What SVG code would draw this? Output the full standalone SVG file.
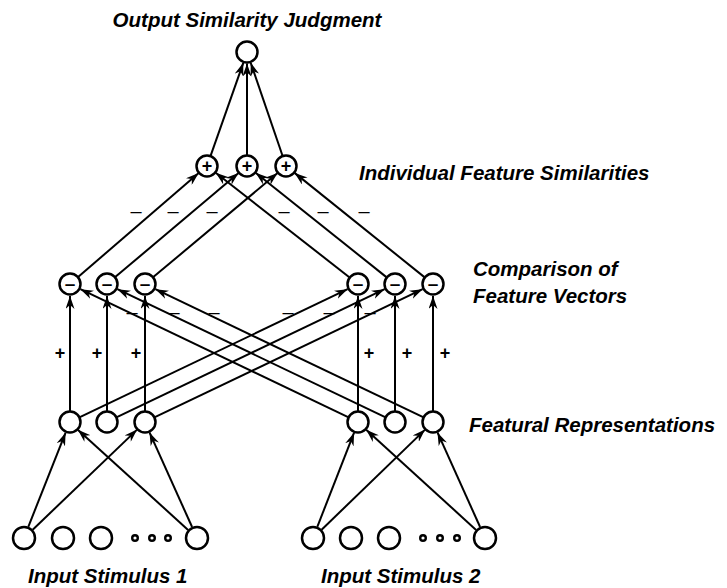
<svg xmlns="http://www.w3.org/2000/svg" width="727" height="588" viewBox="0 0 727 588">
  <style>
    .node { fill: #fff; stroke: #000; stroke-width: 2.5; }
    .dot { fill: #fff; stroke: #000; stroke-width: 2.4; }
    .link { stroke: #000; stroke-width: 2; fill: none; marker-end: url(#arr); }
    .title { font-family: "Liberation Sans", Arial, sans-serif; font-weight: bold; font-style: italic; font-size: 20.5px; fill: #000; }
    .sign { font-family: "Liberation Sans", Arial, sans-serif; font-weight: bold; fill: #000; text-anchor: middle; }
    .neg { font-family: "Liberation Sans", Arial, sans-serif; font-size: 20px; fill: #000; text-anchor: middle; }
  </style>
  <defs>
    <marker id="arr" viewBox="0 0 13 9" refX="13" refY="4.5" markerWidth="13" markerHeight="9" markerUnits="userSpaceOnUse" orient="auto">
      <path d="M0,0 L13,4.5 L0,9 L4,4.5 Z" fill="#000"/>
    </marker>
  </defs>

  <rect width="727" height="588" fill="#fff"/>

  <!-- connectors -->
  <g id="connectors">
    <!-- input stimulus 1 to featural units -->
    <line class="link" x1="28.3" y1="526.8" x2="65.6" y2="432.7"/>
    <line class="link" x1="32.7" y1="529.7" x2="137.1" y2="429.6"/>
    <line class="link" x1="188.1" y1="529.9" x2="77.8" y2="429.8"/>
    <line class="link" x1="192.1" y1="527.0" x2="149.5" y2="432.4"/>
    <!-- input stimulus 2 to featural units -->
    <line class="link" x1="317.3" y1="526.8" x2="354.1" y2="432.7"/>
    <line class="link" x1="321.6" y1="529.7" x2="425.1" y2="429.6"/>
    <line class="link" x1="476.1" y1="529.9" x2="366.2" y2="429.8"/>
    <line class="link" x1="480.1" y1="527.0" x2="437.5" y2="432.4"/>

    <!-- excitatory: featural unit to its own comparison unit -->
    <line class="link" x1="70" y1="411" x2="70" y2="296"/>
    <line class="link" x1="107" y1="411" x2="107" y2="296"/>
    <line class="link" x1="145" y1="411" x2="145" y2="296"/>
    <line class="link" x1="358" y1="411" x2="358" y2="296"/>
    <line class="link" x1="395" y1="411" x2="395" y2="296"/>
    <line class="link" x1="433" y1="411" x2="433" y2="296"/>

    <!-- inhibitory: featural unit to the other stimulus' comparison unit -->
    <line class="link" x1="79.9" y1="417.2" x2="347.6" y2="289.2"/>
    <line class="link" x1="116.9" y1="417.2" x2="384.6" y2="289.2"/>
    <line class="link" x1="154.9" y1="417.2" x2="422.6" y2="289.2"/>
    <line class="link" x1="348.1" y1="417.2" x2="80.4" y2="289.2"/>
    <line class="link" x1="385.1" y1="417.2" x2="117.4" y2="289.2"/>
    <line class="link" x1="423.1" y1="417.2" x2="155.4" y2="289.2"/>

    <!-- comparison units to feature similarity units -->
    <line class="link" x1="77.5" y1="277.5" x2="198.7" y2="173.1"/>
    <line class="link" x1="114.6" y1="277.6" x2="238.6" y2="173.0"/>
    <line class="link" x1="152.7" y1="277.6" x2="277.6" y2="173.0"/>
    <line class="link" x1="349.3" y1="277.2" x2="215.7" y2="172.8"/>
    <line class="link" x1="386.4" y1="277.1" x2="255.6" y2="172.8"/>
    <line class="link" x1="424.4" y1="277.1" x2="294.6" y2="172.9"/>

    <!-- feature similarity units to output -->
    <line class="link" x1="210.3" y1="156.6" x2="243.3" y2="62.8"/>
    <line class="link" x1="247" y1="156" x2="247" y2="63.5"/>
    <line class="link" x1="282.8" y1="156.5" x2="250.7" y2="62.8"/>

    <!-- signs on the lateral weights -->
    <text class="neg" x="136" y="217.5">–</text>
    <text class="neg" x="173" y="217.5">–</text>
    <text class="neg" x="212" y="217.5">–</text>
    <text class="neg" x="284" y="217.5">–</text>
    <text class="neg" x="323" y="217.5">–</text>
    <text class="neg" x="364" y="217.5">–</text>

    <text class="neg" x="132" y="318.5">–</text>
    <text class="neg" x="174" y="318.5">–</text>
    <text class="neg" x="214" y="318.5">–</text>
    <text class="neg" x="288" y="318.5">–</text>
    <text class="neg" x="329" y="318.5">–</text>
    <text class="neg" x="370" y="318.5">–</text>

    <text class="sign" font-size="18" x="60" y="359">+</text>
    <text class="sign" font-size="18" x="97" y="359">+</text>
    <text class="sign" font-size="18" x="136" y="359">+</text>
    <text class="sign" font-size="18" x="369" y="359">+</text>
    <text class="sign" font-size="18" x="407" y="359">+</text>
    <text class="sign" font-size="18" x="445" y="359">+</text>
  </g>

  <!-- output unit -->
  <g id="output">
    <circle class="node" cx="247" cy="52" r="10.5"/>
  </g>

  <!-- feature similarity units -->
  <g id="sim1"><circle class="node" cx="207" cy="166" r="10.5"/><text class="sign" font-size="18" x="207" y="172.2">+</text></g>
  <g id="sim2"><circle class="node" cx="247" cy="166" r="10.5"/><text class="sign" font-size="18" x="247" y="172.2">+</text></g>
  <g id="sim3"><circle class="node" cx="286" cy="166" r="10.5"/><text class="sign" font-size="18" x="286" y="172.2">+</text></g>

  <!-- comparison units -->
  <g id="cmpA1"><circle class="node" cx="70" cy="284" r="10.5"/><text class="sign" font-size="19" x="70" y="289.7">–</text></g>
  <g id="cmpA2"><circle class="node" cx="107" cy="284" r="10.5"/><text class="sign" font-size="19" x="107" y="289.7">–</text></g>
  <g id="cmpA3"><circle class="node" cx="145" cy="284" r="10.5"/><text class="sign" font-size="19" x="145" y="289.7">–</text></g>
  <g id="cmpB1"><circle class="node" cx="358" cy="284" r="10.5"/><text class="sign" font-size="19" x="358" y="289.7">–</text></g>
  <g id="cmpB2"><circle class="node" cx="395" cy="284" r="10.5"/><text class="sign" font-size="19" x="395" y="289.7">–</text></g>
  <g id="cmpB3"><circle class="node" cx="433" cy="284" r="10.5"/><text class="sign" font-size="19" x="433" y="289.7">–</text></g>

  <!-- featural representation units -->
  <g id="featA1"><circle class="node" cx="70" cy="422" r="10.5"/></g>
  <g id="featA2"><circle class="node" cx="107" cy="422" r="10.5"/></g>
  <g id="featA3"><circle class="node" cx="145" cy="422" r="10.5"/></g>
  <g id="featB1"><circle class="node" cx="358" cy="422" r="10.5"/></g>
  <g id="featB2"><circle class="node" cx="395" cy="422" r="10.5"/></g>
  <g id="featB3"><circle class="node" cx="433" cy="422" r="10.5"/></g>

  <!-- input stimulus 1 -->
  <g id="inA1"><circle class="node" cx="24" cy="538" r="11"/></g>
  <g id="inA2"><circle class="node" cx="63" cy="538" r="11"/></g>
  <g id="inA3"><circle class="node" cx="101" cy="538" r="11"/></g>
  <g id="inAdots"><circle class="dot" cx="135" cy="538" r="2.8"/><circle class="dot" cx="152" cy="538" r="2.8"/><circle class="dot" cx="168" cy="538" r="2.8"/></g>
  <g id="inAn"><circle class="node" cx="197" cy="538" r="11"/></g>

  <!-- input stimulus 2 -->
  <g id="inB1"><circle class="node" cx="313" cy="538" r="11"/></g>
  <g id="inB2"><circle class="node" cx="351" cy="538" r="11"/></g>
  <g id="inB3"><circle class="node" cx="389" cy="538" r="11"/></g>
  <g id="inBdots"><circle class="dot" cx="423" cy="538" r="2.8"/><circle class="dot" cx="440" cy="538" r="2.8"/><circle class="dot" cx="457" cy="538" r="2.8"/></g>
  <g id="inBn"><circle class="node" cx="485" cy="538" r="11"/></g>

  <!-- layer labels -->
  <g id="labels">
    <text class="title" x="247" y="26.5" text-anchor="middle">Output Similarity Judgment</text>
    <text class="title" x="359" y="180">Individual Feature Similarities</text>
    <text class="title" x="473" y="276">Comparison of</text>
    <text class="title" x="473" y="302.5">Feature Vectors</text>
    <text class="title" x="469" y="432">Featural Representations</text>
    <text class="title" x="28" y="583">Input Stimulus 1</text>
    <text class="title" x="321" y="583">Input Stimulus 2</text>
  </g>
</svg>
